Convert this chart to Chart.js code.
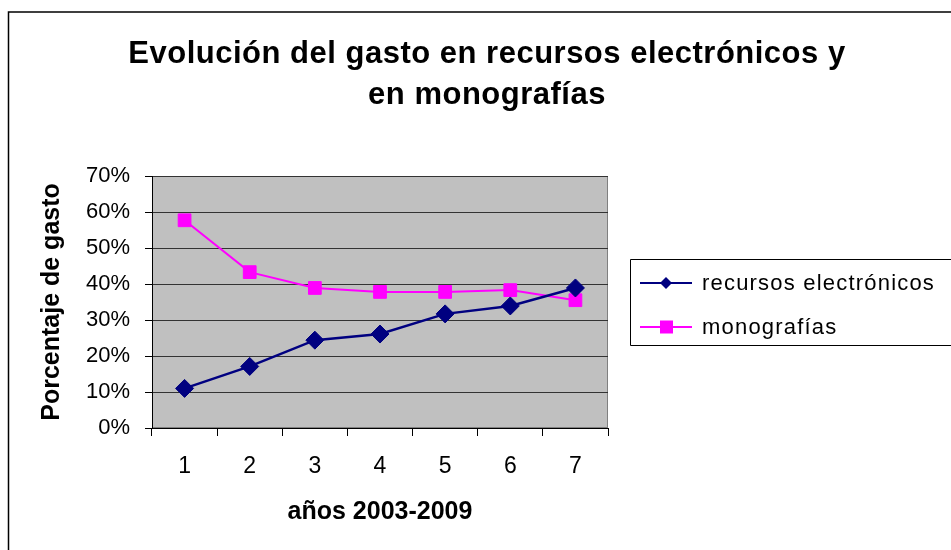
<!DOCTYPE html>
<html>
<head>
<meta charset="utf-8">
<script src="https://cdn.jsdelivr.net/npm/chart.js@4/dist/chart.umd.min.js"></script>
<style>
  html, body { margin: 0; padding: 0; background: #ffffff; }
  #wrap { position: relative; width: 951px; height: 550px; }
</style>
</head>
<body>
<div id="wrap"><canvas id="c" width="951" height="550"></canvas></div>
<script>
// ---- data ----
const titleLines = ['Evolución del gasto en recursos electrónicos y', 'en monografías'];
const categories = ['1', '2', '3', '4', '5', '6', '7'];
const seriesNames = ['recursos electrónicos', 'monografías'];
const recursosElectronicos = [11.0, 17.1, 24.4, 26.1, 31.7, 33.9, 38.9];
const monografias = [57.7, 43.3, 38.9, 37.8, 37.8, 38.3, 35.5];
const yTicks = [0, 10, 20, 30, 40, 50, 60, 70];
const xAxisTitle = 'años 2003-2009';
const yAxisTitle = 'Porcentaje de gasto';

const FONT = '"Liberation Sans", Arial, Helvetica, sans-serif';
const NAVY = '#000080';
const MAGENTA = '#FF00FF';

const decorPlugin = {
  id: 'decor',
  beforeDraw(chart) {
    const ctx = chart.ctx;
    const a = chart.chartArea;
    ctx.save();
    // outer chart border (cut off at right/bottom)
    ctx.strokeStyle = '#000000';
    ctx.lineWidth = 1.5;
    ctx.beginPath();
    ctx.moveTo(8.5, 560);
    ctx.lineTo(8.5, 12);
    ctx.lineTo(960, 12);
    ctx.stroke();
    // plot background
    ctx.fillStyle = '#C0C0C0';
    ctx.fillRect(a.left, a.top, a.right - a.left, a.bottom - a.top);
    ctx.strokeStyle = '#808080';
    ctx.lineWidth = 1;
    ctx.strokeRect(a.left + 0.5, a.top + 0.5, a.right - a.left - 1, a.bottom - a.top - 1);
    // title
    ctx.fillStyle = '#000000';
    ctx.font = 'bold 31px ' + FONT;
    ctx.textAlign = 'center';
    ctx.textBaseline = 'alphabetic';
    try { ctx.letterSpacing = '0.5px'; } catch (e) {}
    ctx.fillText(titleLines[0], 487, 63);
    ctx.fillText(titleLines[1], 487, 104);
    ctx.restore();
  },
  afterDraw(chart) {
    const ctx = chart.ctx;
    ctx.save();
    // legend box
    ctx.strokeStyle = '#000000';
    ctx.lineWidth = 1;
    ctx.fillStyle = '#ffffff';
    ctx.beginPath();
    ctx.rect(630.5, 259.5, 340, 86);
    ctx.fill();
    ctx.stroke();
    const ys = [283, 327];
    chart.data.datasets.forEach((ds, i) => {
      const y = ys[i];
      ctx.strokeStyle = ds.borderColor;
      ctx.lineWidth = 2;
      ctx.beginPath();
      ctx.moveTo(640, y);
      ctx.lineTo(692, y);
      ctx.stroke();
      ctx.fillStyle = ds.pointBackgroundColor;
      ctx.beginPath();
      if (ds.pointStyle === 'rectRot') {
        ctx.moveTo(666, y - 6);
        ctx.lineTo(672, y);
        ctx.lineTo(666, y + 6);
        ctx.lineTo(660, y);
        ctx.closePath();
      } else {
        ctx.rect(660, y - 6.5, 13, 13);
      }
      ctx.fill();
      ctx.fillStyle = '#000000';
      ctx.font = '22px ' + FONT;
      ctx.textAlign = 'left';
      ctx.textBaseline = 'middle';
      try { ctx.letterSpacing = '1.2px'; } catch (e) {}
      ctx.fillText(ds.label, 702, y + 1);
    });
    ctx.restore();
  }
};

new Chart(document.getElementById('c'), {
  type: 'line',
  data: {
    labels: categories,
    datasets: [
      {
        label: seriesNames[0],
        data: recursosElectronicos,
        borderColor: NAVY,
        backgroundColor: NAVY,
        pointBackgroundColor: NAVY,
        pointBorderColor: NAVY,
        pointStyle: 'rectRot',
        pointRadius: 9,
        pointBorderWidth: 1,
        borderWidth: 2.5,
        tension: 0
      },
      {
        label: seriesNames[1],
        data: monografias,
        borderColor: MAGENTA,
        backgroundColor: MAGENTA,
        pointBackgroundColor: MAGENTA,
        pointBorderColor: MAGENTA,
        pointStyle: 'rect',
        pointRadius: 9,
        pointBorderWidth: 1,
        borderWidth: 2,
        tension: 0
      }
    ]
  },
  options: {
    responsive: false,
    animation: false,
    events: [],
    layout: { padding: { left: 0, top: 176, right: 343, bottom: 0 } },
    plugins: {
      legend: { display: false },
      title: { display: false },
      tooltip: { enabled: false }
    },
    scales: {
      x: {
        type: 'category',
        offset: true,
        afterFit: (s) => { s.height = 122; },
        grid: {
          offset: true,
          drawOnChartArea: false,
          drawTicks: true,
          tickLength: 8,
          tickColor: '#000000',
          tickWidth: 1
        },
        border: { display: true, color: '#000000', width: 1 },
        ticks: {
          color: '#000000',
          font: { family: FONT, size: 23 },
          padding: 17,
          maxRotation: 0,
          autoSkip: false
        },
        title: {
          display: true,
          text: xAxisTitle,
          color: '#000000',
          font: { family: FONT, size: 25, weight: 'bold' },
          padding: { top: 0, bottom: 23 }
        }
      },
      y: {
        min: 0,
        max: 70,
        afterFit: (s) => { s.width = 152; },
        afterBuildTicks: (s) => { s.ticks = yTicks.map(v => ({ value: v })); },
        grid: {
          color: '#333333',
          lineWidth: 1,
          drawTicks: true,
          tickLength: 7,
          tickColor: '#000000'
        },
        border: { display: true, color: '#000000', width: 1 },
        ticks: {
          color: '#000000',
          font: { family: FONT, size: 22 },
          padding: 15,
          callback: (v) => v + '%'
        },
        title: {
          display: true,
          text: yAxisTitle,
          color: '#000000',
          font: { family: FONT, size: 25, weight: 'bold' },
          padding: { top: 37, bottom: 0 }
        }
      }
    }
  },
  plugins: [decorPlugin]
});
</script>
</body>
</html>
